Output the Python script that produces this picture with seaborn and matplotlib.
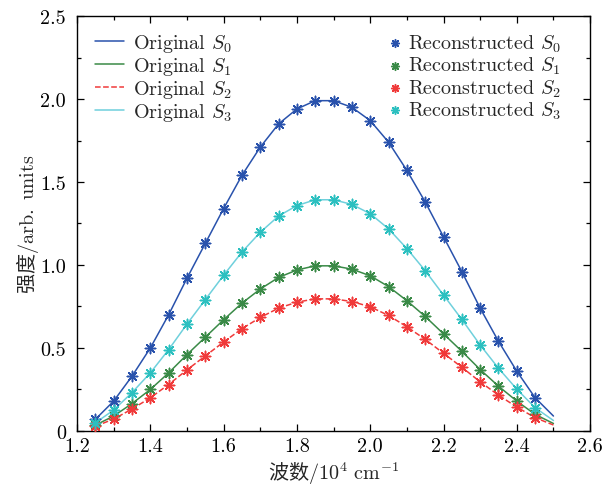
import numpy as np
import pandas as pd
import matplotlib
matplotlib.use("Agg")
import matplotlib.pyplot as plt
from matplotlib.ticker import MultipleLocator, FuncFormatter
import seaborn as sns

# wavenumber grid (10^4 cm^-1)
wavenumber = [1.25, 1.30, 1.35, 1.40, 1.45, 1.50, 1.55, 1.60, 1.65, 1.70,
              1.75, 1.80, 1.85, 1.90, 1.95, 2.00, 2.05, 2.10, 2.15, 2.20,
              2.25, 2.30, 2.35, 2.40, 2.45, 2.50]

s0 = [0.07, 0.18, 0.33, 0.50, 0.70, 0.92, 1.13, 1.34, 1.54, 1.71,
      1.85, 1.94, 1.99, 1.99, 1.95, 1.87, 1.74, 1.57, 1.38, 1.17,
      0.96, 0.74, 0.54, 0.36, 0.20, 0.09]
s1 = [0.035, 0.09, 0.165, 0.25, 0.35, 0.46, 0.565, 0.67, 0.77, 0.855,
      0.925, 0.97, 0.995, 0.995, 0.975, 0.935, 0.87, 0.785, 0.69, 0.585,
      0.48, 0.37, 0.27, 0.18, 0.10, 0.045]
s2 = [0.028, 0.072, 0.132, 0.20, 0.28, 0.368, 0.452, 0.536, 0.616, 0.684,
      0.74, 0.776, 0.796, 0.796, 0.78, 0.748, 0.696, 0.628, 0.552, 0.468,
      0.384, 0.296, 0.216, 0.144, 0.08, 0.036]
s3 = [0.049, 0.126, 0.231, 0.35, 0.49, 0.644, 0.791, 0.938, 1.078, 1.197,
      1.295, 1.358, 1.393, 1.393, 1.365, 1.309, 1.218, 1.099, 0.966, 0.819,
      0.672, 0.518, 0.378, 0.252, 0.14, 0.063]

# reconstructed points stop at 2.45
n_rec = 25

names = ["S_0", "S_1", "S_2", "S_3"]
series = [s0, s1, s2, s3]
line_colors = ["#2952ac", "#3a8a47", "#f03a3a", "#6fd0dc"]
mark_colors = ["#2952ac", "#3a8a47", "#f03a3a", "#2cc0c0"]
line_styles = ["-", "-", "--", "-"]

sns.set_style("ticks")
plt.rcParams["mathtext.fontset"] = "cm"
plt.rcParams["font.family"] = ["cmr10", "Noto Sans CJK SC", "DejaVu Serif"]
plt.rcParams["axes.formatter.use_mathtext"] = True
plt.rcParams["axes.unicode_minus"] = False

FS = 14.5

fig = plt.figure(figsize=(6.04, 4.89), dpi=100)
ax = fig.add_axes([0.1275, 0.1166, 0.8495, 0.8486])

handles_orig = []
handles_rec = []
for name, vals, lc, mc, ls in zip(names, series, line_colors, mark_colors, line_styles):
    df = pd.DataFrame({"x": wavenumber, "y": vals})
    sns.lineplot(data=df, x="x", y="y", ax=ax, color=lc, linewidth=1.1,
                 linestyle=ls, label=f"Original ${name}$", legend=False)
    handles_orig.append(ax.lines[-1])
    sns.scatterplot(data=df.iloc[:n_rec], x="x", y="y", ax=ax, color=mc,
                    marker=(8, 2, 0), s=55, linewidth=1.1, zorder=3,
                    label=f"Reconstructed ${name}$", legend=False)
    handles_rec.append(ax.collections[-1])

leg1 = ax.legend(handles_orig, [h.get_label() for h in handles_orig],
                 loc="upper left", bbox_to_anchor=(0.0195, 0.98),
                 borderaxespad=0, frameon=False, fontsize=FS,
                 handlelength=1.45, handletextpad=0.43, labelspacing=0.05)
ax.add_artist(leg1)
ax.legend(handles_rec, [h.get_label() for h in handles_rec],
          loc="upper left", bbox_to_anchor=(0.59, 0.98),
          borderaxespad=0, frameon=False, fontsize=FS,
          handlelength=0.7, handletextpad=0.3, labelspacing=0.05,
          markerscale=0.75)

ax.set_xlim(1.2, 2.6)
ax.set_ylim(0, 2.5)
ax.xaxis.set_major_locator(MultipleLocator(0.2))
ax.xaxis.set_minor_locator(MultipleLocator(0.1))
ax.yaxis.set_major_locator(MultipleLocator(0.5))
ax.yaxis.set_minor_locator(MultipleLocator(0.25))
ax.xaxis.set_major_formatter(FuncFormatter(lambda v, p: f"{v:.1f}"))
ax.yaxis.set_major_formatter(FuncFormatter(lambda v, p: "0" if abs(v) < 1e-9 else f"{v:.1f}"))
ax.tick_params(which="both", direction="in", top=True, right=True,
               labelsize=FS, colors="black", width=0.9)
ax.tick_params(which="major", length=5)
ax.tick_params(which="minor", length=3)
ax.tick_params(axis="x", pad=4.5)
ax.tick_params(axis="y", pad=8)
for sp in ax.spines.values():
    sp.set_linewidth(1.0)
    sp.set_color("black")

cjk = {"family": "Noto Sans CJK SC", "size": FS}
ax.set_xlabel(r"波数$/10^4\ \mathrm{cm}^{-1}$", fontdict=cjk, labelpad=3)
ax.set_ylabel(r"强度$/\mathrm{arb.\ units}$", fontdict=cjk)
ax.yaxis.set_label_coords(-0.07, 0.5)

fig.savefig("out.png", dpi=100)
